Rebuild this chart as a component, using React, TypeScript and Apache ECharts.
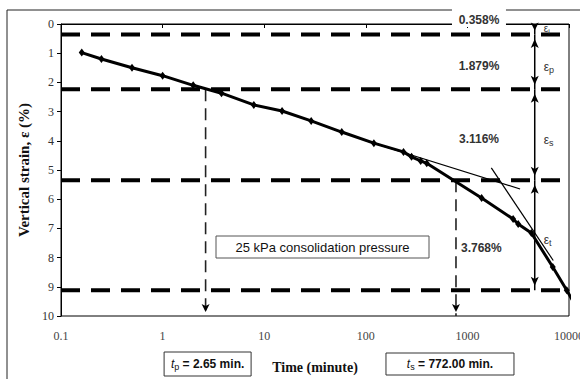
import React, { useEffect, useRef } from "react";
import * as echarts from "echarts";

// Measured consolidation curve (time in minutes, vertical strain in %)
const timeMin = [0.16, 0.25, 0.5, 1, 2, 3.8, 7.9, 15, 29, 58, 120, 235, 282, 347, 398, 1380, 2820, 3160, 4260, 6920, 9500, 11500];
const strainPct = [0.98, 1.2, 1.5, 1.77, 2.1, 2.37, 2.77, 2.98, 3.32, 3.7, 4.08, 4.38, 4.55, 4.69, 4.77, 5.96, 6.68, 6.85, 7.16, 8.32, 9.12, 9.62];

// Tangent construction lines
const secondaryTangentT = [100, 3300];
const secondaryTangentE = [4.0, 5.65];
const tertiaryTangentT = [1720, 7000];
const tertiaryTangentE = [4.93, 8.1];

// Strain components (initial, primary, secondary, tertiary)
const stageIncrements = [0.358, 1.879, 3.116, 3.768];
const stageSubscripts = ["i", "p", "s", "t"];

// Characteristic times (minutes)
const tPrimary = 2.65;
const tSecondary = 772.0;

// Axis ranges
const xMin = 0.1;
const xMax = 10000;
const yMin = 0;
const yMax = 10;
const yStep = 1;

// Where the dimension arrows and percentage labels sit along the time axis
const arrowTime = 4600;
const pctLabelTime = 1300;

const SERIF = "'Liberation Serif', 'Times New Roman', serif";
const SANS = "'Liberation Sans', Arial, sans-serif";

export default function App() {
  const ref = useRef<HTMLDivElement>(null);

  useEffect(() => {
    if (!ref.current) return;
    const chart = echarts.init(ref.current, null, { renderer: "svg" });

    const levels: number[] = [];
    stageIncrements.reduce((acc, v) => {
      const s = acc + v;
      levels.push(s);
      return s;
    }, 0);

    const seg = (
      x0: number, y0: number, x1: number, y1: number,
      lineStyle: any, startArrow: boolean, endArrow: boolean, size: number[] = [6, 9]
    ) => {
      const end = (x: number, y: number, show: boolean, up: boolean) =>
        show
          ? { value: [x, y], symbol: "arrow", symbolSize: size, symbolRotate: up ? 0 : 180, symbolOffset: [0, up ? size[1] / 2 : -size[1] / 2] }
          : { value: [x, y], symbol: "none" };
      return {
        type: "line",
        silent: true,
        z: 3,
        data: [end(x0, y0, startArrow, y0 < y1), end(x1, y1, endArrow, y1 < y0)],
        lineStyle: { color: "#000", ...lineStyle },
        itemStyle: { color: "#000" },
      };
    };

    const series: any[] = [];

    // Horizontal dashed boundaries between strain stages
    levels.forEach((lv) => {
      series.push({
        type: "line",
        silent: true,
        z: 2,
        symbol: "none",
        data: [[xMin, lv], [xMax, lv]],
        lineStyle: { color: "#000", width: 4, type: [19, 11] },
      });
    });

    // Vertical dashed drops at t_p and t_s
    series.push(seg(tPrimary, levels[1], tPrimary, yMax, { width: 1.6, type: [12, 7], color: "#222" }, false, true, [6, 8]));
    series.push(seg(tSecondary, levels[2], tSecondary, yMax, { width: 1.6, type: [12, 7], color: "#222" }, false, true, [6, 8]));

    // Dimension arrows for each stage
    series.push(seg(arrowTime, yMin, arrowTime, levels[0], { width: 1.5 }, false, true, [6, 8]));
    for (let i = 1; i < levels.length; i++) {
      series.push(seg(arrowTime, levels[i - 1], arrowTime, levels[i], { width: 1.5 }, true, true, [6, 9]));
    }

    // Tangent lines
    series.push({
      type: "line", silent: true, z: 4, symbol: "none",
      data: secondaryTangentT.map((t, i) => [t, secondaryTangentE[i]]),
      lineStyle: { color: "#000", width: 1.2 },
    });
    series.push({
      type: "line", silent: true, z: 4, symbol: "none",
      data: tertiaryTangentT.map((t, i) => [t, tertiaryTangentE[i]]),
      lineStyle: { color: "#000", width: 1.2 },
    });

    // Measured curve
    series.push({
      type: "line",
      z: 5,
      clip: false,
      symbol: "diamond",
      symbolSize: [6, 8],
      data: timeMin.map((t, i) =>
        t > xMax ? { value: [t, strainPct[i]], symbol: "none" } : [t, strainPct[i]]
      ),
      lineStyle: { color: "#000", width: 3 },
      itemStyle: { color: "#000" },
    });

    chart.setOption({
      animation: false,
      grid: {
        left: 61, top: 24, right: 11, bottom: 63,
        outerBoundsMode: "none",
        containLabel: false,
        show: true, borderColor: "#000", borderWidth: 1, backgroundColor: "transparent",
      },
      xAxis: {
        type: "log",
        logBase: 10,
        min: xMin,
        max: xMax,
        name: "Time (minute)",
        nameLocation: "middle",
        nameGap: 44,
        nameTextStyle: { fontFamily: SERIF, fontWeight: "bold", fontSize: 14, color: "#111" },
        axisLine: { lineStyle: { color: "#000", width: 1 } },
        axisTick: { show: true, length: 4, lineStyle: { color: "#000" } },
        minorTick: { show: false },
        splitLine: { show: false },
        axisLabel: {
          fontFamily: SERIF, fontSize: 12, color: "#444", margin: 14,
          formatter: (v: number) => String(Number(v.toPrecision(6))),
        },
      },
      yAxis: {
        type: "value",
        inverse: true,
        min: yMin,
        max: yMax,
        interval: yStep,
        name: "Vertical strain, ε (%)",
        nameLocation: "middle",
        nameGap: 17,
        nameRotate: 90,
        nameTextStyle: { fontFamily: SERIF, fontWeight: "bold", fontSize: 15, color: "#111" },
        axisLine: { show: true, lineStyle: { color: "#000", width: 1 } },
        axisTick: { show: true, length: 4, lineStyle: { color: "#000" } },
        splitLine: { show: false },
        axisLabel: { fontFamily: SERIF, fontSize: 12, color: "#333", margin: 7 },
      },
      series,
    });

    const px = (t: number, e: number) => chart.convertToPixel({ gridIndex: 0 }, [t, e]) as number[];

    const graphic: any[] = [];

    // Outer frame
    graphic.push({
      type: "rect", z: 0, silent: true,
      shape: { x: 7, y: 10, width: 600, height: 400 },
      style: { fill: "none", stroke: "#222", lineWidth: 1 },
    });

    // Percentage labels for each stage
    const mids = levels.map((lv, i) => (i === 0 ? lv / 2 : (levels[i - 1] + lv) / 2));
    const pctStyle = { fontFamily: SANS, fontWeight: "bold", fontSize: 12, fill: "#333" };
    const p0 = px(pctLabelTime, 0);
    graphic.push({
      type: "rect", z: 20, silent: true,
      shape: { x: p0[0] - 27, y: 7, width: 54, height: 20 },
      style: { fill: "#fff" },
    });
    graphic.push({
      type: "text", z: 21, x: p0[0], y: p0[1] - 4,
      style: { ...pctStyle, text: stageIncrements[0].toFixed(3) + "%", align: "center", verticalAlign: "middle" },
    });
    for (let i = 1; i < 3; i++) {
      const p = px(pctLabelTime, mids[i]);
      graphic.push({
        type: "text", z: 21, x: p[0], y: p[1] + 4,
        style: { ...pctStyle, text: stageIncrements[i].toFixed(3) + "%", align: "center", verticalAlign: "middle" },
      });
    }
    const p3 = px(tSecondary, mids[3]);
    graphic.push({
      type: "text", z: 21, x: p3[0] + 5, y: p3[1] + 13,
      style: { ...pctStyle, text: stageIncrements[3].toFixed(3) + "%", align: "left", verticalAlign: "middle" },
    });

    // Strain component symbols beside the arrows
    stageSubscripts.forEach((s, i) => {
      const p = px(arrowTime, mids[i]);
      graphic.push({
        type: "text", z: 21, x: p[0] + 9, y: p[1] + (i === 0 ? -1 : 5),
        style: {
          text: "{e|ε}{s|" + s + "}",
          align: "left", verticalAlign: "middle",
          rich: {
            e: { fontFamily: SANS, fontSize: i === 0 ? 10 : 12, fill: "#333" },
            s: { fontFamily: SANS, fontSize: i === 0 ? 7 : 9, fill: "#333", verticalAlign: "bottom", padding: [6, 0, 0, 0] },
          },
        },
      });
    });

    // Loading annotation
    graphic.push({
      type: "rect", z: 20, silent: true,
      shape: { x: 216, y: 236, width: 213, height: 22 },
      style: { fill: "#fff", stroke: "#555", lineWidth: 1 },
    });
    graphic.push({
      type: "text", z: 21, x: 322.5, y: 247,
      style: { text: "25 kPa consolidation pressure", fontFamily: SANS, fontSize: 13, fill: "#111", align: "center", verticalAlign: "middle" },
    });

    // Characteristic time boxes below the axis
    const timeBox = (t: number, sub: string, value: string, w: number, h: number, dx: number) => {
      const cx = px(t, yMax)[0] + dx;
      const cy = 364;
      graphic.push({
        type: "rect", z: 20, silent: true,
        shape: { x: cx - w / 2, y: cy - h / 2, width: w, height: h },
        style: { fill: "#fff", stroke: "#333", lineWidth: 1 },
      });
      graphic.push({
        type: "text", z: 21, x: cx, y: cy,
        style: {
          text: "{t|t}{s|" + sub + "}{v| = " + value + " min.}",
          align: "center", verticalAlign: "middle",
          rich: {
            t: { fontFamily: SANS, fontStyle: "italic", fontSize: 12, fill: "#111" },
            s: { fontFamily: SANS, fontSize: 9, fill: "#111", padding: [6, 0, 0, 0] },
            v: { fontFamily: SANS, fontWeight: "bold", fontSize: 12, fill: "#111" },
          },
        },
      });
    };
    timeBox(tPrimary, "p", tPrimary.toFixed(2), 87, 24, 2);
    timeBox(tSecondary, "s", tSecondary.toFixed(2), 128, 22, -6);

    chart.setOption({ graphic });

    return () => chart.dispose();
  }, []);

  return (
    <div
      ref={ref}
      style={{ position: "absolute", left: 0, top: 0, width: 580, height: 379, background: "#fff" }}
    />
  );
}
